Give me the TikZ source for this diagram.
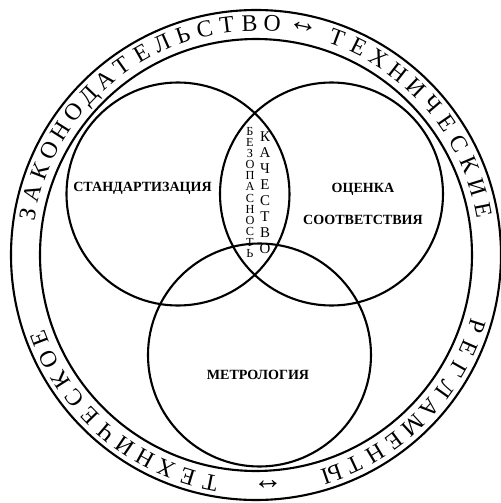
\documentclass[tikz,border=0pt]{standalone}
\usepackage{fontspec}
\setmainfont{Liberation Serif}
\begin{document}
\begin{tikzpicture}[
  ring/.style={line width=1.2pt},
  ringletter/.style={anchor=base,inner sep=0pt,font=\fontsize{13.5}{13.5}\selectfont},
  ringarrow/.style={inner sep=0pt,text height=3pt,text depth=0pt,font=\fontsize{17}{17}\selectfont},
  field/.style={inner sep=0pt,text height=5.4pt,text depth=0pt,font=\fontsize{8}{9}\selectfont\bfseries},
  column/.style={inner sep=0pt,align=center}
]
\useasboundingbox (-5.12,-4.96) rectangle (4.90,5.10);

\draw[ring] (0,0) circle (4.9);
\draw[ring] (0,0) circle (4.32);

\draw[ring] (-1.56,1.22) circle (2.23);
\draw[ring] (1.51,1.22) circle (2.23);
\draw[ring] (0.07,-2.0) circle (2.23);

\node[field] (std) at (-2.27,1.36) {СТАНДАРТИЗАЦИЯ};
\node[field] (conf1) at (2.14,1.34) {ОЦЕНКА};
\node[field] (conf2) at (2.14,0.70) {СООТВЕТСТВИЯ};
\node[field] (metr) at (0.04,-2.40) {МЕТРОЛОГИЯ};

\node[column,font=\fontsize{7}{6.3}\selectfont] (safety) at (-0.12,1.25) {Б\\Е\\З\\О\\П\\А\\С\\Н\\О\\С\\Т\\Ь};
\node[column,font=\fontsize{8.5}{9.1}\selectfont] (quality) at (0.18,1.24) {К\\А\\Ч\\Е\\С\\Т\\В\\О};

\foreach \ch [count=\i from 0, evaluate=\i as \a using 170-5.6*\i] in {З,А,К,О,Н,О,Д,А,Т,Е,Л,Ь,С,Т,В,О}
  \node[ringletter,rotate=\a-90] (law\i) at (\a:4.48) {\ch};
\foreach \ch [count=\i from 0, evaluate=\i as \a using 69.6-5.84*\i] in {Т,Е,Х,Н,И,Ч,Е,С,К,И,Е}
  \node[ringletter,rotate=\a-90] (tech\i) at (\a:4.48) {\ch};
\foreach \ch [count=\i from 0, evaluate=\i as \a using -17.8-5.9*\i] in {Р,Е,Г,Л,А,М,Е,Н,Т,Ы}
  \node[ringletter,rotate=\a-90] (reg\i) at (\a:4.48) {\ch};
\foreach \ch [count=\i from 0, evaluate=\i as \a using -101.4-5.76*\i] in {Т,Е,Х,Н,И,Ч,Е,С,К,О,Е}
  \node[ringletter,rotate=\a-90] (techn\i) at (\a:4.48) {\ch};

\node[ringarrow,rotate=-11.6] (arrtop) at (78.4:4.62) {↔};
\node[ringarrow,rotate=-177] (arrbot) at (-87:4.55) {↔};
\end{tikzpicture}
\end{document}
